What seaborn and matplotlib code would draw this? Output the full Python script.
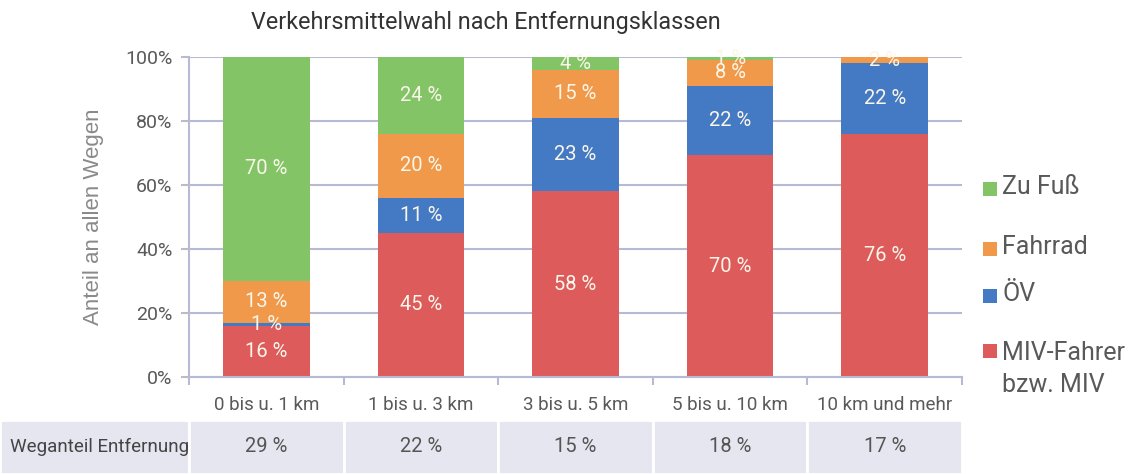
# Verkehrsmittelwahl nach Entfernungsklassen.
# Gestapelte Balken (Anteile je Entfernungsklasse)
# mit einer Tabellenzeile fuer den Weganteil darunter.

import matplotlib

matplotlib.use('Agg')

import matplotlib.pyplot as plt
import matplotlib.patches as mpatches
import numpy as np
import seaborn as sns


kategorien = [
    '0 bis u. 1 km',
    '1 bis u. 3 km',
    '3 bis u. 5 km',
    '5 bis u. 10 km',
    '10 km und mehr',
]

miv = [16, 45, 58, 70, 76]
oev = [1, 11, 23, 22, 22]
fahrrad = [13, 20, 15, 8, 2]
zu_fuss = [70, 24, 4, 1, 0]

weganteil = [29, 22, 15, 18, 17]

modi = ['MIV-Fahrer\nbzw. MIV', 'ÖV', 'Fahrrad', 'Zu Fuß']
farben = ['#DD5B5B', '#4479C4', '#F0994A', '#82C466']

W, H = 1137, 474
GRID = '#B8BAD4'
LAVENDEL = '#E6E6F0'


sns.set_theme(style='white')

plt.rcParams['font.family'] = ['Roboto', 'DejaVu Sans']

fig = plt.figure(
    figsize=(W / 100, H / 100),
    dpi=100,
)

ax = fig.add_axes([189 / W, 97 / H, 773 / W, 320 / H])

# Werte je Balken auf 100 % normieren (Rundungsdifferenzen)
werte = np.array([miv, oev, fahrrad, zu_fuss], dtype=float)
anteile = werte / werte.sum(axis=0) * 100
oberkanten = np.cumsum(anteile, axis=0)

# Von oben nach unten zeichnen, jede Schicht verdeckt die darunter
for i in reversed(range(len(modi))):

    sns.barplot(
        x=kategorien,
        y=oberkanten[i],
        color=farben[i],
        saturation=1,
        width=0.56,
        linewidth=0,
        ax=ax,
    )

# Beschriftung der Segmente
for i in range(len(modi)):

    for j in range(len(kategorien)):

        if werte[i, j] <= 0:
            continue

        mitte = oberkanten[i, j] - anteile[i, j] / 2

        ax.text(
            j,
            mitte,
            f'{int(werte[i, j])} %',
            ha='center',
            va='center',
            fontsize=14.5,
            color='#FAF6EA',
        )

ax.set_xlim(-0.5, len(kategorien) - 0.5)
ax.set_ylim(0, 100)

ax.set_yticks(np.arange(0, 101, 20))
ax.set_yticklabels([f'{v}%' for v in range(0, 101, 20)])

ax.set_xticks(
    np.arange(-0.5, len(kategorien), 1.0),
    minor=True,
)

ax.set_axisbelow(True)

ax.yaxis.grid(
    True,
    color=GRID,
    linewidth=1.5,
)

for side in ['top', 'right']:
    ax.spines[side].set_visible(False)

for side in ['left', 'bottom']:
    ax.spines[side].set_color(GRID)
    ax.spines[side].set_linewidth(1.5)

ax.tick_params(
    axis='y',
    length=6,
    width=1.5,
    color=GRID,
    labelsize=14,
    labelcolor='#595959',
    pad=6,
    left=True,
)

ax.tick_params(
    axis='x',
    which='major',
    length=0,
    labelsize=13.5,
    labelcolor='#595959',
    pad=14,
)

ax.tick_params(
    axis='x',
    which='minor',
    length=6,
    width=1.5,
    color=GRID,
    bottom=True,
)

ax.set_xlabel('')

ax.set_ylabel(
    'Anteil an allen Wegen',
    fontsize=16,
    color='#8A8A8A',
    family=['Liberation Sans', 'DejaVu Sans'],
)

ax.yaxis.set_label_coords(-0.11, 0.5)

fig.text(
    486 / W,
    1 - 22 / H,
    'Verkehrsmittelwahl nach Entfernungsklassen',
    ha='center',
    va='center',
    fontsize=16.8,
    color='#333333',
)

# Legende, von oben nach unten: Zu Fuss, Fahrrad, OeV, MIV
legende_text_y = [187, 247, 294, 369]
legende_box_y = [189, 249, 296, 351]

for k, idx in enumerate([3, 2, 1, 0]):

    fig.add_artist(
        mpatches.Rectangle(
            (983 / W, 1 - (legende_box_y[k] + 7) / H),
            14 / W,
            14 / H,
            transform=fig.transFigure,
            facecolor=farben[idx],
            edgecolor='none',
        )
    )

    fig.text(
        1002 / W,
        1 - legende_text_y[k] / H,
        modi[idx],
        ha='left',
        va='center',
        fontsize=18,
        color='#595959',
        linespacing=1.4,
    )

# Tabellenzeile "Weganteil Entfernung"
tab = fig.add_axes([0, 0, 962 / W, 54 / H])

x_links = -0.5 - 189 / 154.6

tab.set_xlim(x_links, len(kategorien) - 0.5)
tab.set_ylim(0, 1)
tab.set_axis_off()

tab.add_patch(
    mpatches.Rectangle(
        (x_links, 0),
        -0.5 - x_links,
        1,
        facecolor=LAVENDEL,
        edgecolor='white',
        linewidth=2,
    )
)

tab.bar(
    np.arange(len(kategorien)),
    np.ones(len(kategorien)),
    width=1.0,
    color=LAVENDEL,
    edgecolor='white',
    linewidth=2,
)

tab.text(
    x_links + 10 / 154.6,
    0.5,
    'Weganteil Entfernung',
    ha='left',
    va='center',
    fontsize=13.5,
    color='#444444',
)

for j, w in enumerate(weganteil):

    tab.text(
        j,
        0.5,
        f'{w} %',
        ha='center',
        va='center',
        fontsize=14.5,
        color='#555555',
    )

fig.savefig(
    'out.png',
    dpi=100,
)

plt.close(fig)
